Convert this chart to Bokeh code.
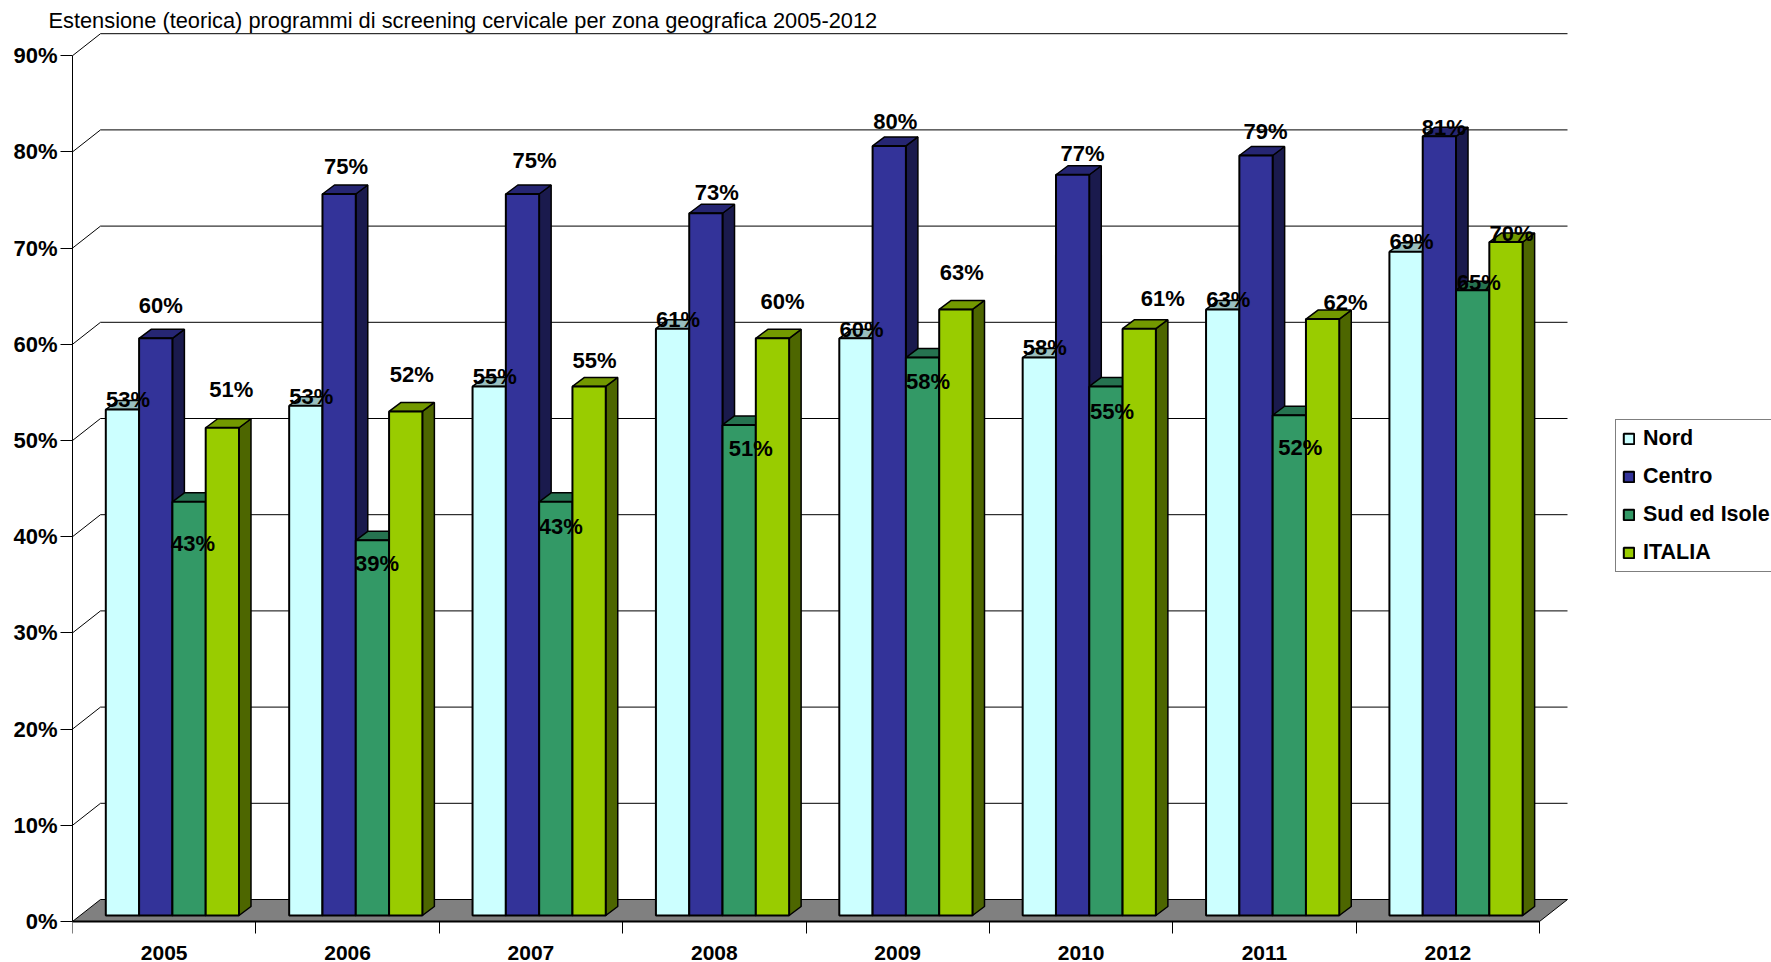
from bokeh.plotting import figure
from bokeh.models import (ColumnDataSource, FixedTicker, Legend, LegendItem, LinearAxis,
                          PrintfTickFormatter, Range1d, Title)
from bokeh.core.properties import value as bk_value
from bokeh.embed import file_html
from bokeh.resources import INLINE

TITLE = "Estensione (teorica) programmi di screening cervicale per zona geografica 2005-2012"
years = [2005, 2006, 2007, 2008, 2009, 2010, 2011, 2012]
pct_ticks = [0, 10, 20, 30, 40, 50, 60, 70, 80, 90]

nord = [52.6, 53, 55, 61, 60, 58, 63, 69]
centro = [60, 75, 75, 73, 80, 77, 79, 81]
sud = [43, 39, 43, 51, 58, 55, 52, 65]
italia = [50.7, 52.4, 55, 60, 63, 61, 62, 70]

# label nudges in screen pixels, relative to the top centre of each bar
nudge_x = {
    "Nord": [5.5, 5.5, 5.5, 5.5, 5.5, 5.5, 5.5, 5.5],
    "Centro": [5, 7, 12, 11, 6, 10, 9.5, 4.5],
    "Sud ed Isole": [4, 4.5, 5, 11.5, 5.5, 6, 11, 6],
    "ITALIA": [9, 6, 5.5, 10, 6, 23.5, 23, 5.5],
}
nudge_y = {
    "Nord": [-10, -9, -10, -9, -9, -10, -10, -10],
    "Centro": [-33, -28, -34, -21, -24, -21, -24, -9],
    "Sud ed Isole": [42, 23, 25, 24, 24, 25, 32, -8],
    "ITALIA": [-38, -37, -26, -37, -37, -30, -17, -9],
}

FONT = "Liberation Sans"
BLACK = "#000000"
series = [
    ("Nord", nord, "#CCFFFF", "#99BFBF", "#668080"),
    ("Centro", centro, "#333399", "#262673", "#1A1A4D"),
    ("Sud ed Isole", sud, "#339966", "#267350", "#1A4D33"),
    ("ITALIA", italia, "#99CC00", "#739900", "#4D6600"),
]

# chart geometry, in pixels of the figure
WIDTH, HEIGHT = 1771, 962
FRAME_LEFT, FRAME_TOP = 72, 32
FRAME_W, FRAME_H = WIDTH - FRAME_LEFT, HEIGHT - FRAME_TOP
ZERO_PX = 921          # figure-relative y of the 0% line
PX_PER_PCT = 9.62
PX_PER_YEAR = 183.375
BACK_DX, BACK_DY = 28, 22
BAR_W_PX = 33.3
BAR_GAP_LEFT_PX = 33.3
BAR_LIFT_PX = 6
BAR_DX, BAR_DY = 12, 9

x0 = years[0] - 0.5
x1 = years[-1] + 0.5
y_top = (ZERO_PX - FRAME_TOP) / PX_PER_PCT
y_bottom = (ZERO_PX - HEIGHT) / PX_PER_PCT

p = figure(width=WIDTH, height=HEIGHT, output_backend="svg", toolbar_location=None,
           x_range=Range1d(x0, x0 + FRAME_W / PX_PER_YEAR),
           y_range=Range1d(y_bottom, y_top),
           x_axis_type=None, y_axis_type=None,
           min_border_left=FRAME_LEFT, min_border_right=0,
           min_border_top=FRAME_TOP, min_border_bottom=0,
           outline_line_color=None, background_fill_color="white", border_fill_color="white")
p.grid.visible = False

title = Title(text=TITLE, text_font=FONT, text_font_size="21.8px", text_font_style="normal",
              text_color=BLACK, align="left", offset=-24, standoff=0)
p.add_layout(title, "above")

dx_back = BACK_DX / PX_PER_YEAR
dy_back = BACK_DY / PX_PER_PCT

# floor
p.patch([x0, x0 + dx_back, x1 + dx_back, x1], [0, dy_back, dy_back, 0],
        fill_color="#808080", line_color=BLACK, line_width=1)

# back wall grid lines, with their diagonal on the left wall
grid_x = [[x0, x0 + dx_back, x1 + dx_back] for _ in pct_ticks[1:]]
grid_y = [[v, v + dy_back, v + dy_back] for v in pct_ticks[1:]]
p.multi_line(grid_x, grid_y, line_color=BLACK, line_width=1)

# bars, drawn series by series so each hides the side of the one before it
lift = BAR_LIFT_PX / PX_PER_PCT
bar_w = BAR_W_PX / PX_PER_YEAR
dx_bar = BAR_DX / PX_PER_YEAR
dy_bar = BAR_DY / PX_PER_PCT
legend_items = []
label_x, label_y, label_t, label_dx, label_dy = [], [], [], [], []
for s, (name, vals, front, top, side) in enumerate(series):
    lefts = [y - 0.5 + (BAR_GAP_LEFT_PX + s * BAR_W_PX) / PX_PER_YEAR for y in years]
    rights = [l + bar_w for l in lefts]
    tops = [v + lift for v in vals]
    bases = [lift for _ in vals]
    # side face
    p.patches([[r, r + dx_bar, r + dx_bar, r] for r in rights],
              [[b, b + dy_bar, t + dy_bar, t] for b, t in zip(bases, tops)],
              fill_color=side, line_color=BLACK, line_width=1.5)
    # top face
    p.patches([[l, l + dx_bar, r + dx_bar, r] for l, r in zip(lefts, rights)],
              [[t, t + dy_bar, t + dy_bar, t] for t in tops],
              fill_color=top, line_color=BLACK, line_width=1.5)
    # front face
    src = ColumnDataSource(dict(left=lefts, right=rights, top=tops, bottom=bases))
    r = p.quad(left="left", right="right", top="top", bottom="bottom", source=src,
               fill_color=front, line_color=BLACK, line_width=2)
    legend_items.append(LegendItem(label=name, renderers=[r]))
    for i, v in enumerate(vals):
        label_x.append((lefts[i] + rights[i]) / 2)
        label_y.append(tops[i])
        label_t.append(f"{round(v)}%")
        label_dx.append(nudge_x[name][i])
        label_dy.append(nudge_y[name][i])

labels = ColumnDataSource(dict(x=label_x, y=label_y, t=label_t, dx=label_dx, dy=label_dy))
p.text(x="x", y="y", text="t", x_offset="dx", y_offset="dy", source=labels,
       text_font=bk_value(FONT), text_font_style="bold", text_font_size="22px",
       text_color=BLACK, text_align="center", text_baseline="middle")

# percentage axis
yaxis = LinearAxis(ticker=FixedTicker(ticks=pct_ticks), formatter=PrintfTickFormatter(format="%d%%"),
                   bounds=(0, 90), major_tick_out=12, major_tick_in=0, minor_tick_out=0, minor_tick_in=0,
                   major_label_standoff=3, major_label_text_font=FONT, major_label_text_font_style="bold",
                   major_label_text_font_size="22px", major_label_text_color=BLACK,
                   axis_line_color=BLACK, major_tick_line_color=BLACK)
p.add_layout(yaxis, "left")

# year axis: tick marks on the group boundaries, labels on the group centres
boundary_ticks = [y - 0.5 for y in years] + [x1]
bounds_axis = LinearAxis(ticker=FixedTicker(ticks=boundary_ticks), bounds=(x0, x1),
                         fixed_location=0, major_tick_out=12, major_tick_in=0,
                         minor_tick_out=0, minor_tick_in=0, major_label_text_font_size="0px",
                         major_label_overrides={t: "" for t in boundary_ticks},
                         axis_line_color=BLACK, axis_line_width=2, major_tick_line_color=BLACK)
p.add_layout(bounds_axis, "below")
label_axis = LinearAxis(ticker=FixedTicker(ticks=years), formatter=PrintfTickFormatter(format="%d"),
                        fixed_location=0, axis_line_color=None, major_tick_line_color=None,
                        major_tick_out=0, major_tick_in=0, minor_tick_out=0, minor_tick_in=0,
                        major_label_standoff=24, major_label_text_font=FONT,
                        major_label_text_font_style="bold", major_label_text_font_size="21px",
                        major_label_text_color=BLACK)
p.add_layout(label_axis, "below")

legend = Legend(items=legend_items, location=(1543, 390), orientation="vertical", margin=0,
                padding=6, spacing=13, glyph_width=13, glyph_height=13, label_height=24, label_width=200,
                label_standoff=8, label_text_font=FONT, label_text_font_style="bold",
                label_text_font_size="21.5px", label_text_color=BLACK,
                border_line_color=BLACK, border_line_width=1, background_fill_color="white",
                background_fill_alpha=1)
p.add_layout(legend, "center")

open("out.html", "w").write(file_html(p, INLINE))
